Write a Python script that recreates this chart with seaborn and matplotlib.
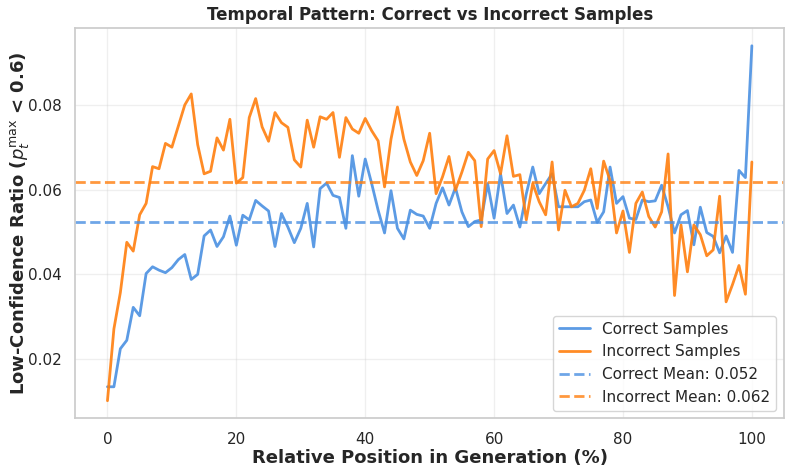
import numpy as np
import seaborn as sns
import matplotlib.pyplot as plt

# relative position in generation (%)
positions = list(range(101))

# low-confidence ratio per position
correct_ratio = [
    0.0134, 0.0134, 0.0224, 0.0244, 0.0322, 0.0302, 0.0402, 0.0418, 0.0410, 0.0404,
    0.0416, 0.0435, 0.0447, 0.0388, 0.0400, 0.0491, 0.0505, 0.0466, 0.0489, 0.0538,
    0.0469, 0.0540, 0.0529, 0.0575, 0.0562, 0.0550, 0.0466, 0.0544, 0.0512, 0.0475,
    0.0509, 0.0568, 0.0465, 0.0603, 0.0616, 0.0587, 0.0582, 0.0509, 0.0681, 0.0585,
    0.0673, 0.0615, 0.0552, 0.0498, 0.0598, 0.0509, 0.0484, 0.0552, 0.0542, 0.0538,
    0.0509, 0.0568, 0.0605, 0.0564, 0.0605, 0.0548, 0.0513, 0.0525, 0.0529, 0.0615,
    0.0533, 0.0638, 0.0544, 0.0564, 0.0512, 0.0591, 0.0654, 0.0591, 0.0615, 0.0638,
    0.0560, 0.0560, 0.0560, 0.0560, 0.0572, 0.0576, 0.0523, 0.0548, 0.0654, 0.0568,
    0.0584, 0.0533, 0.0530, 0.0576, 0.0572, 0.0574, 0.0611, 0.0560, 0.0498, 0.0541,
    0.0551, 0.0470, 0.0559, 0.0499, 0.0490, 0.0451, 0.0491, 0.0452, 0.0646, 0.0629,
    0.0941,
]
incorrect_ratio = [
    0.0101, 0.0271, 0.0357, 0.0476, 0.0455, 0.0541, 0.0568, 0.0655, 0.0650, 0.0710,
    0.0701, 0.0751, 0.0801, 0.0827, 0.0707, 0.0638, 0.0644, 0.0723, 0.0694, 0.0767,
    0.0616, 0.0629, 0.0771, 0.0816, 0.0749, 0.0715, 0.0783, 0.0759, 0.0748, 0.0671,
    0.0654, 0.0765, 0.0701, 0.0773, 0.0767, 0.0783, 0.0677, 0.0771, 0.0744, 0.0734,
    0.0769, 0.0740, 0.0716, 0.0607, 0.0720, 0.0796, 0.0720, 0.0666, 0.0634, 0.0669,
    0.0734, 0.0591, 0.0631, 0.0679, 0.0599, 0.0642, 0.0689, 0.0669, 0.0513, 0.0673,
    0.0693, 0.0638, 0.0728, 0.0632, 0.0636, 0.0529, 0.0615, 0.0572, 0.0541, 0.0666,
    0.0505, 0.0599, 0.0560, 0.0568, 0.0599, 0.0650, 0.0556, 0.0668, 0.0622, 0.0498,
    0.0550, 0.0452, 0.0568, 0.0595, 0.0537, 0.0512, 0.0548, 0.0685, 0.0350, 0.0517,
    0.0406, 0.0517, 0.0494, 0.0444, 0.0458, 0.0585, 0.0335, 0.0376, 0.0421, 0.0353,
    0.0666,
]

blue = '#4A90E2'
orange = '#FF7F0E'

sns.set_theme(style='whitegrid')
plt.rcParams['font.family'] = ['DejaVu Sans']

fig, ax = plt.subplots(figsize=(7.92, 4.75), dpi=100)

sns.lineplot(x=positions, y=correct_ratio, color=blue, linewidth=2, alpha=0.9,
             label='Correct Samples', ax=ax)
sns.lineplot(x=positions, y=incorrect_ratio, color=orange, linewidth=2, alpha=0.9,
             label='Incorrect Samples', ax=ax)

# mean lines
correct_mean = np.mean(correct_ratio)
incorrect_mean = np.mean(incorrect_ratio)
ax.axhline(correct_mean, color=blue, linestyle='--', linewidth=2, alpha=0.8,
           label=f'Correct Mean: {correct_mean:.3f}')
ax.axhline(incorrect_mean, color=orange, linestyle='--', linewidth=2, alpha=0.8,
           label=f'Incorrect Mean: {incorrect_mean:.3f}')

ax.set_title('Temporal Pattern: Correct vs Incorrect Samples', fontsize=12, fontweight='bold')
ax.set_xlabel('Relative Position in Generation (%)', fontsize=13, fontweight='bold', labelpad=1)
ax.set_ylabel(r'Low-Confidence Ratio ($p_t^{\max}$ < 0.6)', fontsize=13, fontweight='bold',
              labelpad=-2)
ax.tick_params(labelsize=11)
ax.tick_params(axis='x', pad=4)
ax.grid(True, alpha=0.3)
ax.legend(loc='lower right', fontsize=11, frameon=True)

fig.subplots_adjust(left=0.095, right=0.99, top=0.941, bottom=0.119)
plt.savefig('out.png', dpi=100)
